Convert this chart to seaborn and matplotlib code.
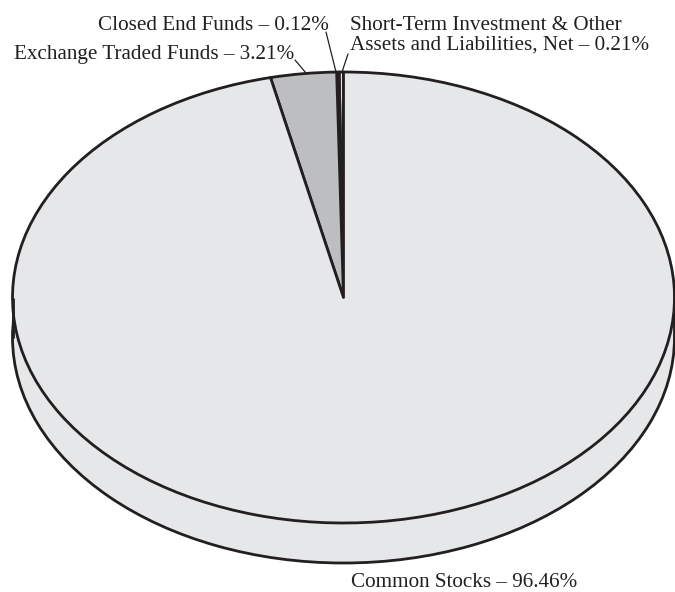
import matplotlib
matplotlib.use("Agg")
import matplotlib.pyplot as plt
import seaborn as sns

# Portfolio allocation, listed counter-clockwise from twelve o'clock
holdings = ["Short-Term Investment & Other\nAssets and Liabilities, Net", "Closed End Funds",
            "Exchange Traded Funds", "Common Stocks"]
weights = [0.21, 0.12, 3.21, 96.46]
slice_colors = ["#e6e7e8", "#231f20", "#bcbec0", "#e6e7e8"]

INK = "#231f20"
W, H = 675, 592
CX, CY, RX, RY = 343.5, 297.5, 331, 225.5
DEPTH = 40 / RY
LINE = 2.0

sns.set_theme(style="white")
plt.rcParams["font.family"] = ["Liberation Serif", "DejaVu Serif"]

fig = plt.figure(figsize=(W / 100, H / 100), dpi=100, facecolor="white")
ax = fig.add_axes([0, 0, 1, 1])
edge = {"edgecolor": INK, "linewidth": LINE}

# Lower disc gives the pie its thickness, the slices sit on top of it
ax.pie([sum(weights)], colors=["#e6e7e8"], center=(0, -DEPTH), radius=1,
       wedgeprops=edge, frame=True)
ax.fill_between([-1, 1], [-DEPTH, -DEPTH], [0, 0], color="#e6e7e8", lw=0)
ax.plot([-1, -1], [0, -DEPTH], color=INK, lw=LINE, solid_capstyle="butt")
ax.plot([1, 1], [0, -DEPTH], color=INK, lw=LINE, solid_capstyle="butt")
ax.pie(weights, colors=slice_colors, startangle=90, counterclock=True,
       wedgeprops=dict(edge, joinstyle="round"), frame=True)

ax.set_aspect("auto")
ax.set_xlim(-CX / RX, (W - CX) / RX)
ax.set_ylim((CY - H) / RY, CY / RY)
ax.set_axis_off()


def to_data(px, py):
    return (px - CX) / RX, (CY - py) / RY


def label(px, py, name, weight, ha="left"):
    x, y = to_data(px, py)
    ax.text(x, y, f"{name} – {weight:.2f}%", ha=ha, va="baseline", fontsize=15.2,
            color=INK, linespacing=1.05)


label(350, 50, holdings[0], weights[0])
label(329, 30, holdings[1], weights[1], ha="right")
label(294, 59, holdings[2], weights[2], ha="right")
label(351, 587, holdings[3], weights[3])

# Leader lines from the small slices to their labels
leaders = [((348, 54), (342, 72)), ((326, 32), (336, 72)), ((295, 60), (306, 73))]
for start, end in leaders:
    xs, ys = zip(to_data(*start), to_data(*end))
    ax.plot(xs, ys, color=INK, lw=0.9)

fig.savefig("out.png", dpi=100, facecolor="white")
